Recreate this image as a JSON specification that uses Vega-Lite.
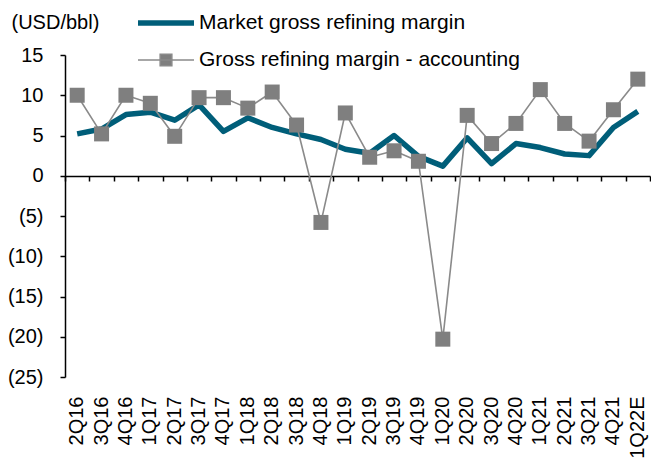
{
  "$schema": "https://vega.github.io/schema/vega-lite/v6.json",
  "width": 585,
  "height": 322,
  "autosize": "none",
  "padding": {"left": 65, "top": 55, "right": 1, "bottom": 84},
  "config": {"view": {"stroke": null}, "font": "Liberation Sans"},
  "data": {
    "values": [
      {"q": "2Q16", "series": "Market gross refining margin", "value": 5.2},
      {"q": "3Q16", "series": "Market gross refining margin", "value": 5.8},
      {"q": "4Q16", "series": "Market gross refining margin", "value": 7.6},
      {"q": "1Q17", "series": "Market gross refining margin", "value": 7.9},
      {"q": "2Q17", "series": "Market gross refining margin", "value": 6.9},
      {"q": "3Q17", "series": "Market gross refining margin", "value": 8.8},
      {"q": "4Q17", "series": "Market gross refining margin", "value": 5.5},
      {"q": "1Q18", "series": "Market gross refining margin", "value": 7.2},
      {"q": "2Q18", "series": "Market gross refining margin", "value": 6.0},
      {"q": "3Q18", "series": "Market gross refining margin", "value": 5.2},
      {"q": "4Q18", "series": "Market gross refining margin", "value": 4.5},
      {"q": "1Q19", "series": "Market gross refining margin", "value": 3.3},
      {"q": "2Q19", "series": "Market gross refining margin", "value": 2.8},
      {"q": "3Q19", "series": "Market gross refining margin", "value": 5.0},
      {"q": "4Q19", "series": "Market gross refining margin", "value": 2.4},
      {"q": "1Q20", "series": "Market gross refining margin", "value": 1.2},
      {"q": "2Q20", "series": "Market gross refining margin", "value": 4.7},
      {"q": "3Q20", "series": "Market gross refining margin", "value": 1.5},
      {"q": "4Q20", "series": "Market gross refining margin", "value": 4.0},
      {"q": "1Q21", "series": "Market gross refining margin", "value": 3.5},
      {"q": "2Q21", "series": "Market gross refining margin", "value": 2.7},
      {"q": "3Q21", "series": "Market gross refining margin", "value": 2.5},
      {"q": "4Q21", "series": "Market gross refining margin", "value": 6.0},
      {"q": "1Q22E", "series": "Market gross refining margin", "value": 8.0},
      {"q": "2Q16", "series": "Gross refining margin  - accounting", "value": 10.0},
      {"q": "3Q16", "series": "Gross refining margin  - accounting", "value": 5.2},
      {"q": "4Q16", "series": "Gross refining margin  - accounting", "value": 10.0},
      {"q": "1Q17", "series": "Gross refining margin  - accounting", "value": 9.0},
      {"q": "2Q17", "series": "Gross refining margin  - accounting", "value": 4.9},
      {"q": "3Q17", "series": "Gross refining margin  - accounting", "value": 9.7},
      {"q": "4Q17", "series": "Gross refining margin  - accounting", "value": 9.7},
      {"q": "1Q18", "series": "Gross refining margin  - accounting", "value": 8.4},
      {"q": "2Q18", "series": "Gross refining margin  - accounting", "value": 10.4},
      {"q": "3Q18", "series": "Gross refining margin  - accounting", "value": 6.3},
      {"q": "4Q18", "series": "Gross refining margin  - accounting", "value": -5.8},
      {"q": "1Q19", "series": "Gross refining margin  - accounting", "value": 7.8},
      {"q": "2Q19", "series": "Gross refining margin  - accounting", "value": 2.3},
      {"q": "3Q19", "series": "Gross refining margin  - accounting", "value": 3.1},
      {"q": "4Q19", "series": "Gross refining margin  - accounting", "value": 1.8},
      {"q": "1Q20", "series": "Gross refining margin  - accounting", "value": -20.3},
      {"q": "2Q20", "series": "Gross refining margin  - accounting", "value": 7.5},
      {"q": "3Q20", "series": "Gross refining margin  - accounting", "value": 4.0},
      {"q": "4Q20", "series": "Gross refining margin  - accounting", "value": 6.5},
      {"q": "1Q21", "series": "Gross refining margin  - accounting", "value": 10.7},
      {"q": "2Q21", "series": "Gross refining margin  - accounting", "value": 6.5},
      {"q": "3Q21", "series": "Gross refining margin  - accounting", "value": 4.3},
      {"q": "4Q21", "series": "Gross refining margin  - accounting", "value": 8.2},
      {"q": "1Q22E", "series": "Gross refining margin  - accounting", "value": 12.0}
    ]
  },
  "resolve": {"axis": {"x": "independent"}},
  "layer": [
    {
      "mark": {"type": "line", "strokeJoin": "round", "strokeCap": "butt"},
      "encoding": {
        "x": {
          "field": "q", "type": "ordinal", "sort": null,
          "scale": {"type": "band", "paddingInner": 0, "paddingOuter": 0},
          "axis": {
            "orient": "bottom", "offset": -201, "labels": false, "title": null,
            "domain": true, "domainColor": "black", "domainWidth": 1.5,
            "ticks": true, "tickBand": "extent", "tickSize": 5, "tickColor": "black", "tickWidth": 1.5,
            "grid": false
          }
        },
        "y": {
          "field": "value", "type": "quantitative",
          "scale": {"domain": [-25, 15], "nice": false, "zero": false},
          "axis": {
            "values": [15, 10, 5, 0, -5, -10, -15, -20, -25],
            "labelExpr": "datum.value < 0 ? '(' + format(-datum.value, 'd') + ')' : format(datum.value, 'd')",
            "grid": false, "domainColor": "black", "domainWidth": 1.5,
            "tickColor": "black", "tickSize": 5, "tickWidth": 1.5,
            "labelPadding": 17, "labelFontSize": 20, "labelColor": "black",
            "title": "(USD/bbl)", "titleAngle": 0, "titleAlign": "left", "titleBaseline": "middle",
            "titleX": -54, "titleY": -33, "titleFontWeight": "normal", "titleFontSize": 20, "titleColor": "black"
          }
        },
        "color": {
          "field": "series", "type": "nominal", "sort": null,
          "scale": {"domain": ["Market gross refining margin", "Gross refining margin  - accounting"], "range": ["#005E79", "#8A8A8A"]},
          "legend": {
            "title": null, "orient": "none", "legendX": 88, "legendY": -45, "direction": "vertical",
            "padding": 0, "symbolSize": 400, "labelFontSize": 21, "labelColor": "black", "labelOffset": 20,
            "labelLimit": 0, "rowPadding": 15,
            "encode": {
              "symbols": {
                "update": {
                  "shape": {"signal": "datum.value === 'Market gross refining margin' ? 'M-2.8,0H2.8' : 'M-2.8,0H2.8M-0.58,-0.58H0.58V0.58H-0.58Z'"},
                  "strokeWidth": {"signal": "datum.value === 'Market gross refining margin' ? 5 : 1.6"},
                  "fill": {"signal": "datum.value === 'Market gross refining margin' ? 'transparent' : '#7F7F7F'"},
                  "stroke": {"signal": "datum.value === 'Market gross refining margin' ? '#005E79' : '#8A8A8A'"},
                  "opacity": {"value": 1}
                }
              }
            }
          }
        },
        "strokeWidth": {
          "field": "series", "type": "nominal", "sort": null,
          "scale": {"domain": ["Market gross refining margin", "Gross refining margin  - accounting"], "range": [5.5, 1.6]},
          "legend": null
        }
      }
    },
    {
      "transform": [{"filter": "datum.series === 'Gross refining margin  - accounting'"}],
      "mark": {"type": "point", "shape": "square", "filled": true, "size": 225, "color": "#7F7F7F", "opacity": 1},
      "encoding": {
        "x": {
          "field": "q", "type": "ordinal", "sort": null,
          "axis": {
            "orient": "bottom", "labels": true, "title": null, "domain": false, "ticks": false, "grid": false,
            "labelAngle": -90, "labelFontSize": 20, "labelColor": "black", "labelPadding": 19
          }
        },
        "y": {"field": "value", "type": "quantitative"}
      }
    }
  ]
}
